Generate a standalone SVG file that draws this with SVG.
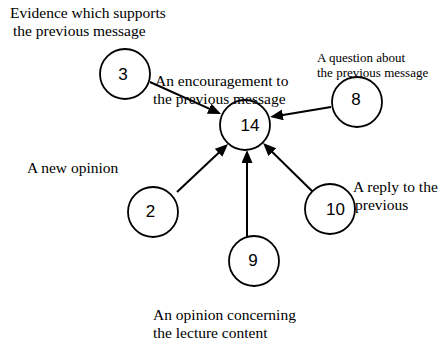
<svg xmlns="http://www.w3.org/2000/svg" width="440" height="343" viewBox="0 0 440 343">
<style>
.node{fill:#fff;stroke:#000;stroke-width:1.8}
.num{font-family:"Liberation Sans",Arial,sans-serif;font-size:17px;fill:#000;text-anchor:middle}
.lbl{font-family:"Liberation Serif","Times New Roman",serif;font-size:15.5px;fill:#000}
.sm{font-size:13px}
.edge{stroke:#000;stroke-width:2;fill:none;marker-end:url(#ah)}
</style>
<defs>
<marker id="ah" markerUnits="userSpaceOnUse" markerWidth="14" markerHeight="12" refX="9" refY="5.5" orient="auto">
<path d="M0,0 L13,5.5 L0,11 z" fill="#000"/>
</marker>
</defs>
<rect width="440" height="343" fill="#fff"/>
<g id="connectors">
<line class="edge" x1="150" y1="82" x2="217.4" y2="112.4"/>
<line class="edge" x1="331" y1="107" x2="274" y2="116.4"/>
<line class="edge" x1="177" y1="192" x2="225.1" y2="146.7"/>
<line class="edge" x1="247" y1="237" x2="247" y2="154"/>
<line class="edge" x1="313" y1="192" x2="265.9" y2="145.8"/>
</g>
<g id="node3"><circle class="node" cx="125" cy="74" r="25"/><text class="num" x="123" y="80">3</text></g>
<g id="node14"><circle class="node" cx="245" cy="125" r="25"/><text class="num" x="250" y="131">14</text></g>
<g id="node8"><circle class="node" cx="357" cy="102" r="25"/><text class="num" x="356" y="105">8</text></g>
<g id="node2"><circle class="node" cx="153" cy="212" r="25"/><text class="num" x="150.5" y="217">2</text></g>
<g id="node9"><circle class="node" cx="254" cy="261" r="25"/><text class="num" x="253" y="266">9</text></g>
<g id="node10"><circle class="node" cx="330" cy="209" r="25"/><text class="num" x="335.5" y="215">10</text></g>
<g id="labels">
<text class="lbl" x="10" y="18">Evidence which supports</text>
<text class="lbl" x="13" y="36">the previous message</text>
<text class="lbl" x="155" y="86">An encouragement to</text>
<text class="lbl" x="153" y="104">the previous message</text>
<text class="lbl sm" x="317" y="62">A question about</text>
<text class="lbl sm" x="317" y="77">the previous message</text>
<text class="lbl" x="27" y="173">A new opinion</text>
<text class="lbl" x="353" y="192">A reply to the</text>
<text class="lbl" x="355" y="210">previous</text>
<text class="lbl" x="153" y="320">An opinion concerning</text>
<text class="lbl" x="153" y="338">the lecture content</text>
</g>
</svg>
